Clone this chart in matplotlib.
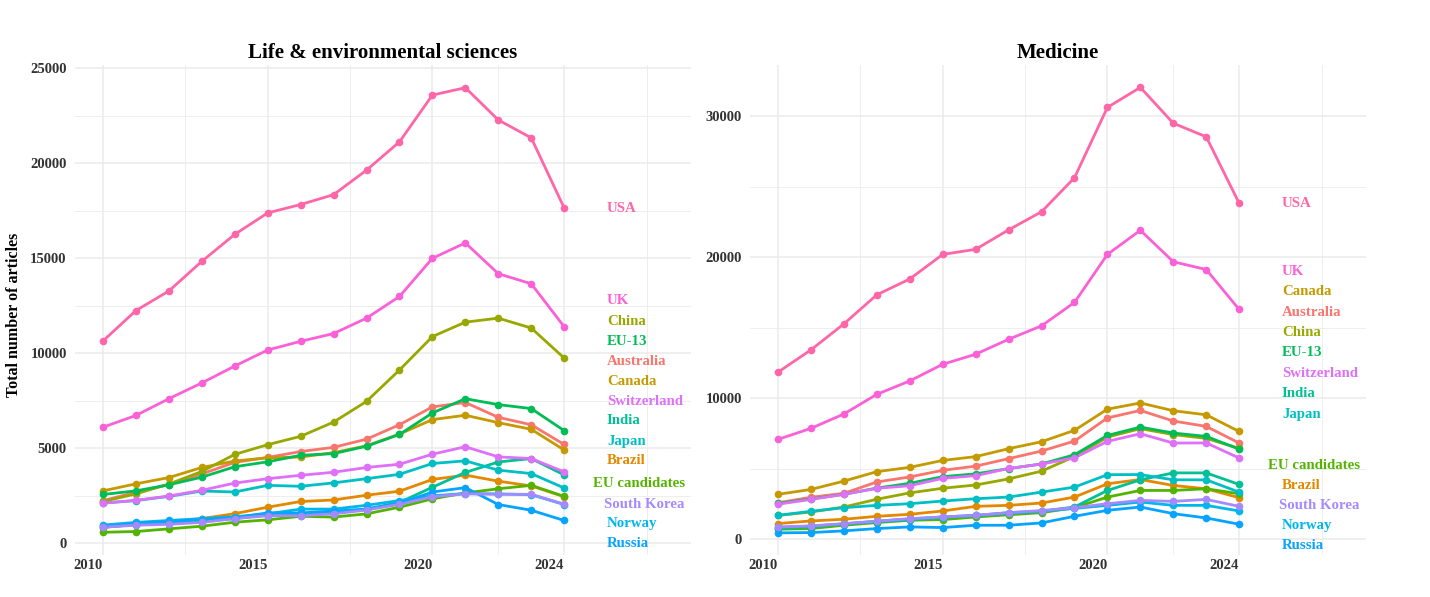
import numpy as np
import matplotlib
matplotlib.use('Agg')
from matplotlib import pyplot as plt

years = list(range(2010, 2025))
countries = ['Australia', 'Brazil', 'Canada', 'China', 'EU candidates', 'EU-13',
             'India', 'Japan', 'Norway', 'Russia', 'South Korea', 'Switzerland',
             'UK', 'USA']

# Life & environmental sciences
life_australia = [2245, 2690, 3090, 3650, 4260, 4520, 4830, 5050, 5480, 6240, 7180, 7410, 6630, 6240, 5200]
life_brazil = [830, 1000, 1100, 1300, 1560, 1900, 2200, 2280, 2530, 2740, 3360, 3590, 3270, 3020, 2450]
life_canada = [2760, 3130, 3460, 3990, 4330, 4500, 4540, 4770, 5130, 5750, 6510, 6740, 6350, 6000, 4910]
life_china = [2200, 2600, 3120, 3780, 4680, 5190, 5630, 6380, 7470, 9120, 10880, 11640, 11850, 11330, 9750]
life_eu_cand = [580, 620, 760, 900, 1110, 1235, 1420, 1380, 1550, 1900, 2340, 2650, 2870, 3050, 2470]
life_eu13 = [2570, 2760, 3080, 3480, 4030, 4290, 4630, 4720, 5110, 5730, 6860, 7610, 7300, 7090, 5930]
life_india = [850, 980, 1050, 1150, 1300, 1500, 1550, 1600, 1800, 2150, 2950, 3730, 4280, 4460, 3600]
life_japan = [2120, 2250, 2470, 2750, 2700, 3050, 3000, 3180, 3400, 3630, 4200, 4340, 3850, 3670, 2910]
life_norway = [960, 1100, 1200, 1300, 1400, 1550, 1800, 1800, 2000, 2250, 2500, 2620, 2600, 2560, 2040]
life_russia = [900, 1050, 1150, 1250, 1350, 1600, 1600, 1700, 1800, 2100, 2700, 2930, 2040, 1740, 1200]
life_korea = [850, 950, 1000, 1100, 1300, 1450, 1450, 1550, 1750, 2050, 2450, 2600, 2580, 2580, 2060]
life_swiss = [2110, 2260, 2490, 2790, 3170, 3400, 3580, 3740, 3990, 4160, 4690, 5080, 4550, 4460, 3760]
life_uk = [6110, 6730, 7610, 8440, 9330, 10175, 10630, 11040, 11850, 12990, 15000, 15810, 14190, 13660, 11400]
life_usa = [10650, 12250, 13280, 14840, 16260, 17390, 17830, 18350, 19640, 21130, 23590, 23980, 22280, 21340, 17650]

# Medicine
med_australia = [2600, 2990, 3270, 4075, 4430, 4900, 5195, 5725, 6265, 6970, 8610, 9140, 8390, 8010, 6830]
med_brazil = [1127, 1315, 1432, 1643, 1784, 2019, 2347, 2418, 2582, 3005, 3944, 4249, 3826, 3592, 2958]
med_canada = [3200, 3545, 4135, 4805, 5110, 5600, 5870, 6430, 6925, 7730, 9230, 9670, 9120, 8830, 7650]
med_china = [1700, 1950, 2300, 2850, 3300, 3630, 3860, 4290, 4840, 5870, 7250, 7850, 7430, 7160, 6450]
med_eu_cand = [728, 775, 1009, 1197, 1362, 1408, 1596, 1750, 1900, 2250, 3005, 3474, 3474, 3592, 3239]
med_eu13 = [2550, 2870, 3200, 3640, 3980, 4450, 4650, 5020, 5350, 6000, 7370, 7960, 7540, 7300, 6400]
med_india = [800, 900, 1100, 1250, 1400, 1550, 1700, 1900, 2000, 2300, 3474, 4225, 4718, 4718, 3897]
med_japan = [1714, 1995, 2254, 2418, 2535, 2723, 2887, 3005, 3357, 3709, 4590, 4600, 4225, 4225, 3357]
med_norway = [850, 950, 1100, 1300, 1450, 1600, 1700, 1850, 2000, 2200, 2418, 2653, 2418, 2418, 2019]
med_russia = [469, 493, 610, 775, 892, 845, 1009, 1009, 1174, 1643, 2066, 2300, 1831, 1526, 1080]
med_korea = [892, 962, 1127, 1291, 1479, 1596, 1714, 1900, 2050, 2250, 2535, 2770, 2700, 2840, 2347]
med_swiss = [2500, 2840, 3200, 3620, 3810, 4330, 4520, 5030, 5340, 5780, 6950, 7490, 6830, 6840, 5770]
med_uk = [7090, 7870, 8890, 10280, 11230, 12410, 13120, 14180, 15130, 16790, 20190, 21900, 19670, 19120, 16290]
med_usa = [11850, 13430, 15270, 17330, 18450, 20190, 20550, 21930, 23210, 25620, 30600, 32020, 29480, 28520, 23810]

life = dict(zip(countries, [life_australia, life_brazil, life_canada, life_china, life_eu_cand,
                            life_eu13, life_india, life_japan, life_norway, life_russia,
                            life_korea, life_swiss, life_uk, life_usa]))
med = dict(zip(countries, [med_australia, med_brazil, med_canada, med_china, med_eu_cand,
                           med_eu13, med_india, med_japan, med_norway, med_russia,
                           med_korea, med_swiss, med_uk, med_usa]))

# where the repelled end labels ended up (data units)
life_label_y = {'USA': 17632, 'UK': 12753, 'China': 11700, 'EU-13': 10647, 'Australia': 9563,
                'Canada': 8511, 'Switzerland': 7489, 'India': 6437, 'Japan': 5384, 'Brazil': 4347,
                'EU candidates': 3158, 'South Korea': 2068, 'Norway': 1016, 'Russia': -37}
med_label_y = {'USA': 23810, 'UK': 18953, 'Canada': 17536, 'Australia': 16048, 'China': 14632,
               'EU-13': 13215, 'Switzerland': 11756, 'India': 10340, 'Japan': 8874,
               'EU candidates': 5262, 'Brazil': 3846, 'South Korea': 2429, 'Norway': 1013,
               'Russia': -404}


def hcl_colour(h, c=100.0, l=65.0):
    h = np.deg2rad(h)
    u, v = c * np.cos(h), c * np.sin(h)
    xn, yn, zn = 95.047, 100.0, 108.883
    y = yn * ((l + 16) / 116) ** 3
    un = 4 * xn / (xn + 15 * yn + 3 * zn)
    vn = 9 * yn / (xn + 15 * yn + 3 * zn)
    up = u / (13 * l) + un
    vp = v / (13 * l) + vn
    x = 9 * y * up / (4 * vp)
    z = y * (12 - 3 * up - 20 * vp) / (4 * vp)
    m = np.array([[3.2404542, -1.5371385, -0.4985314],
                  [-0.9692660, 1.8760108, 0.0415560],
                  [0.0556434, -0.2040259, 1.0572252]])
    rgb = m @ (np.array([x, y, z]) / 100)
    rgb = np.clip(rgb, 0, None)
    rgb = np.where(rgb <= 0.0031308, 12.92 * rgb, 1.055 * rgb ** (1 / 2.4) - 0.055)
    return tuple(np.clip(rgb, 0, 1))


hues = 15 + 360 * np.arange(len(countries)) / len(countries)
colours = {name: hcl_colour(h) for name, h in zip(countries, hues)}

plt.rcParams['font.family'] = ['Liberation Serif', 'DejaVu Serif']
plt.rcParams['font.weight'] = 'bold'

W, H = 1430, 597
fig = plt.figure(figsize=(W / 100, H / 100), dpi=100)


def px_axes(left, top, right, bottom):
    return fig.add_axes([left / W, 1 - bottom / H, (right - left) / W, (bottom - top) / H])


def draw_panel(ax, data, label_y, title, ylim, major_y, minor_y):
    ax.set_xlim(2009.15, 2027.85)
    ax.set_ylim(*ylim)
    for s in ax.spines.values():
        s.set_visible(False)
    ax.set_xticks([2010, 2015, 2020, 2024])
    ax.set_xticks([2012.5, 2017.5, 2022, 2026.5], minor=True)
    ax.set_yticks(major_y)
    ax.set_yticks(minor_y, minor=True)
    ax.grid(which='major', color='#EBEBEB', lw=1.1)
    ax.grid(which='minor', color='#EBEBEB', lw=0.6)
    ax.set_axisbelow(True)
    ax.tick_params(which='both', length=0)
    ax.tick_params(axis='x', pad=3, labelsize=10.5, labelcolor='#333333')
    ax.tick_params(axis='y', pad=6, labelsize=10.5, labelcolor='#333333')
    for lab in ax.get_xticklabels():
        lab.set_ha('right')
    ax.set_title(title, fontsize=15, fontweight='bold', pad=5)

    for name in countries:
        ax.plot(years, data[name], color=colours[name], lw=2.0, zorder=2,
                solid_capstyle='round')
    for name in countries:
        ax.plot(years, data[name], 'o', color=colours[name], ms=5.5, mew=0, zorder=3)

    texts = []
    for name in countries:
        t = ax.text(2025.3, label_y[name], name, color=colours[name], fontsize=10.7,
                    fontweight='bold', ha='left', va='center', clip_on=False)
        texts.append(t)
    return texts


ax1 = px_axes(75, 65, 691, 555)
ax2 = px_axes(750, 65, 1366, 555)
t1 = draw_panel(ax1, life, life_label_y, 'Life & environmental sciences',
                (-616, 25174), [0, 5000, 10000, 15000, 20000, 25000],
                [2500, 7500, 12500, 17500, 22500])
t2 = draw_panel(ax2, med, med_label_y, 'Medicine',
                (-1098, 33605), [0, 10000, 20000, 30000], [5000, 15000, 25000])

fig.text(14 / W, 1 - 315 / H, 'Total number of articles', rotation=90, ha='center',
         va='center', fontsize=11.5, fontweight='bold')

# keep the end labels inside the panel, like the repel step does
fig.canvas.draw()
for ax, texts in ((ax1, t1), (ax2, t2)):
    limit = ax.transData.transform((2027.66, 0))[0]
    for t in texts:
        bb = t.get_window_extent()
        if bb.x1 > limit:
            x0, y0 = ax.transData.transform(t.get_position())
            new = ax.transData.inverted().transform((x0 - (bb.x1 - limit), y0))
            t.set_position((new[0], t.get_position()[1]))

fig.savefig('out.png', dpi=100)
